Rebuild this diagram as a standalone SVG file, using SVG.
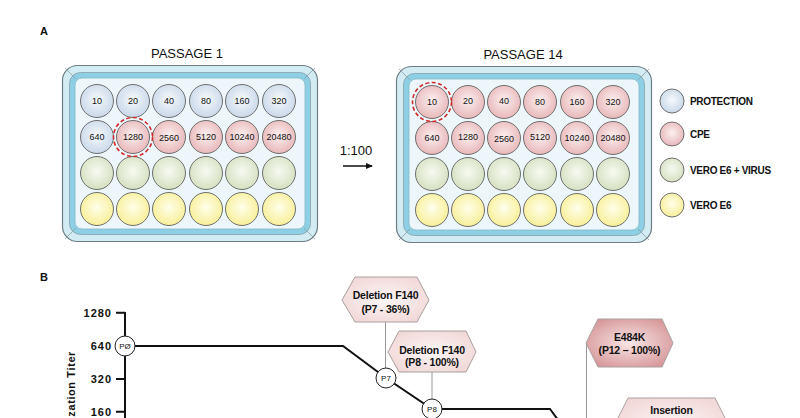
<svg xmlns="http://www.w3.org/2000/svg" xmlns:xlink="http://www.w3.org/1999/xlink" width="800" height="418" viewBox="0 0 800 418">
<style>
text{font-family:"Liberation Sans",Arial,sans-serif;fill:#111}
.panel{font-size:11px;font-weight:bold}
.title{font-size:13px;text-anchor:middle}
.wn{font-size:9px;text-anchor:middle}
.well{stroke:#6f6f6f;stroke-width:1}
.blue{fill:url(#gBlue)}
.pink{fill:url(#gPink)}
.green{fill:url(#gGreen)}
.yellow{fill:url(#gYellow)}
.mark{fill:none;stroke:#d42a2a;stroke-width:1.6;stroke-dasharray:4 2.5}
.leg{font-size:10px;font-weight:bold;letter-spacing:-0.3px}
.ax{font-size:11px;font-weight:bold;letter-spacing:1px;text-anchor:end}
.axt{font-size:11px;font-weight:bold;letter-spacing:0.6px;text-anchor:end}
.main{fill:none;stroke:#111;stroke-width:2}
.conn{fill:none;stroke:#999;stroke-width:1}
.pc{fill:#fff;stroke:#222;stroke-width:1}
.pl{font-size:8px;text-anchor:middle}
.hex{stroke:#a9a0a0;stroke-width:1}
.ht{font-size:10.5px;font-weight:bold;text-anchor:middle;letter-spacing:-0.2px}
</style>
<defs>
<radialGradient id="gBlue" cx="50%" cy="45%" r="55%"><stop offset="0" stop-color="#f6f9fc"/><stop offset="1" stop-color="#c8d8ea"/></radialGradient>
<radialGradient id="gPink" cx="50%" cy="45%" r="55%"><stop offset="0" stop-color="#fcf0f0"/><stop offset="1" stop-color="#e8b7b9"/></radialGradient>
<radialGradient id="gGreen" cx="50%" cy="45%" r="55%"><stop offset="0" stop-color="#f7faf1"/><stop offset="1" stop-color="#d5e0c1"/></radialGradient>
<radialGradient id="gYellow" cx="50%" cy="45%" r="55%"><stop offset="0" stop-color="#fffeea"/><stop offset="1" stop-color="#f8ef98"/></radialGradient>
<radialGradient id="gHex" cx="50%" cy="50%" r="60%"><stop offset="0" stop-color="#fdf6f6"/><stop offset="1" stop-color="#f1d6d6"/></radialGradient>
<radialGradient id="gHexD" cx="50%" cy="50%" r="60%"><stop offset="0" stop-color="#f8e6e6"/><stop offset="1" stop-color="#d69597"/></radialGradient>
<marker id="arr" markerWidth="8" markerHeight="8" refX="6" refY="3" orient="auto" markerUnits="userSpaceOnUse"><path d="M0,0 L7,3 L0,6 z" fill="#111"/></marker>
<g id="frame">
<rect x="0.5" y="0.5" width="255" height="176" rx="15" fill="#d3ecf4" stroke="#6e7f86" stroke-width="1.2"/>
<rect x="7.5" y="7.5" width="241" height="162" rx="11" fill="#8dcfe4" stroke="#8aa0a8" stroke-width="0.8"/>
<rect x="13" y="13" width="230" height="151" rx="7" fill="#edf7fb" stroke="#86b6c6" stroke-width="0.8"/>
<path d="M3,3 L14,14 M253,3 L242,14 M3,174 L14,163 M253,174 L242,163" stroke="#8aa0a8" stroke-width="0.8" fill="none"/>
</g>
</defs>
<rect width="800" height="418" fill="#fff"/>

<text class="panel" x="40" y="35">A</text>
<text class="panel" x="40" y="281">B</text>

<g id="plate1">
<text class="title" x="187" y="58">PASSAGE 1</text>
<use xlink:href="#frame" x="62" y="65"/>
<g class="well blue"><circle cx="97" cy="101" r="16.5"/><circle cx="133" cy="101" r="16.5"/><circle cx="169" cy="101" r="16.5"/><circle cx="206" cy="101" r="16.5"/><circle cx="242" cy="101" r="16.5"/><circle cx="279" cy="101" r="16.5"/><circle cx="97" cy="137" r="16.5"/></g>
<g class="well pink"><circle cx="133" cy="137" r="16.5"/><circle cx="169" cy="137" r="16.5"/><circle cx="206" cy="137" r="16.5"/><circle cx="242" cy="137" r="16.5"/><circle cx="279" cy="137" r="16.5"/></g>
<g class="well green"><circle cx="97" cy="173" r="16.5"/><circle cx="133" cy="173" r="16.5"/><circle cx="169" cy="173" r="16.5"/><circle cx="206" cy="173" r="16.5"/><circle cx="242" cy="173" r="16.5"/><circle cx="279" cy="173" r="16.5"/></g>
<g class="well yellow"><circle cx="97" cy="209" r="16.5"/><circle cx="133" cy="209" r="16.5"/><circle cx="169" cy="209" r="16.5"/><circle cx="206" cy="209" r="16.5"/><circle cx="242" cy="209" r="16.5"/><circle cx="279" cy="209" r="16.5"/></g>
<circle class="mark" cx="133" cy="137" r="19.5"/>
<g class="wn-row">
<text class="wn" x="97" y="104">10</text><text class="wn" x="133" y="104">20</text><text class="wn" x="169" y="104">40</text><text class="wn" x="206" y="104">80</text><text class="wn" x="242" y="104">160</text><text class="wn" x="279" y="104">320</text>
<text class="wn" x="97" y="140">640</text><text class="wn" x="133" y="140">1280</text><text class="wn" x="169" y="141">2560</text><text class="wn" x="206" y="140">5120</text><text class="wn" x="242" y="140">10240</text><text class="wn" x="279" y="140">20480</text>
</g>
</g>

<g id="dilution">
<text x="356" y="155" style="font-size:13px;text-anchor:middle">1:100</text>
<line x1="343" y1="166" x2="372" y2="166" stroke="#111" stroke-width="1.5" marker-end="url(#arr)"/>
</g>

<g id="plate14">
<text class="title" x="523" y="59">PASSAGE 14</text>
<use xlink:href="#frame" x="396" y="66"/>
<g class="well pink"><circle cx="432" cy="102" r="16.5"/><circle cx="468" cy="102" r="16.5"/><circle cx="504" cy="102" r="16.5"/><circle cx="540" cy="102" r="16.5"/><circle cx="577" cy="102" r="16.5"/><circle cx="613" cy="102" r="16.5"/>
<circle cx="432" cy="138" r="16.5"/><circle cx="468" cy="138" r="16.5"/><circle cx="504" cy="138" r="16.5"/><circle cx="540" cy="138" r="16.5"/><circle cx="577" cy="138" r="16.5"/><circle cx="613" cy="138" r="16.5"/></g>
<g class="well green"><circle cx="432" cy="174" r="16.5"/><circle cx="468" cy="174" r="16.5"/><circle cx="504" cy="174" r="16.5"/><circle cx="540" cy="174" r="16.5"/><circle cx="577" cy="174" r="16.5"/><circle cx="613" cy="174" r="16.5"/></g>
<g class="well yellow"><circle cx="432" cy="210" r="16.5"/><circle cx="468" cy="210" r="16.5"/><circle cx="504" cy="210" r="16.5"/><circle cx="540" cy="210" r="16.5"/><circle cx="577" cy="210" r="16.5"/><circle cx="613" cy="210" r="16.5"/></g>
<circle class="mark" cx="432" cy="102" r="19.5"/>
<text class="wn" x="432" y="105">10</text><text class="wn" x="468" y="104">20</text><text class="wn" x="504" y="104">40</text><text class="wn" x="540" y="105">80</text><text class="wn" x="577" y="105">160</text><text class="wn" x="613" y="105">320</text>
<text class="wn" x="432" y="141">640</text><text class="wn" x="468" y="140">1280</text><text class="wn" x="504" y="142">2560</text><text class="wn" x="540" y="140">5120</text><text class="wn" x="577" y="141">10240</text><text class="wn" x="613" y="141">20480</text>
</g>

<g id="legend">
<circle class="well blue" cx="672" cy="101" r="12"/><text class="leg" x="690" y="104.5">PROTECTION</text>
<circle class="well pink" cx="672" cy="134" r="12"/><text class="leg" x="690" y="137.5">CPE</text>
<circle class="well green" cx="672" cy="170" r="12"/><text class="leg" x="690" y="174">VERO E6 + VIRUS</text>
<circle class="well yellow" cx="672" cy="205" r="12"/><text class="leg" x="690" y="208.5">VERO E6</text>
</g>

<g id="axis">
<path class="main" d="M125,312 V420 M116,312.7 H125 M116,379 H125 M116,411.7 H125"/>
<text class="ax" x="112" y="316.5">1280</text>
<text class="ax" x="112" y="350">640</text>
<text class="ax" x="112" y="383">320</text>
<text class="ax" x="112" y="415.5">160</text>
<text class="axt" transform="translate(75,351) rotate(-90)">Neutralization Titer</text>
</g>

<g id="connectors">
<path class="main" d="M125,346 H343 L386,378 L432,409 H550 L564,428"/>
<path class="conn" d="M385.5,322 V368 M432,372 V399 M586.5,343 V420"/>
</g>

<g id="P0"><circle class="pc" cx="125" cy="346" r="10"/><text class="pl" x="125" y="349">PØ</text></g>
<g id="P7"><circle class="pc" cx="386" cy="378" r="10"/><text class="pl" x="386" y="381">P7</text></g>
<g id="P8"><circle class="pc" cx="432" cy="409" r="10"/><text class="pl" x="432" y="412">P8</text></g>

<g id="hex-del-p7">
<polygon class="hex" fill="url(#gHex)" points="342,300 355,277 417,277 429,300 417,322 355,322"/>
<text class="ht" x="385.5" y="299">Deletion F140</text>
<text class="ht" x="385.5" y="313">(P7 - 36%)</text>
</g>
<g id="hex-del-p8">
<polygon class="hex" fill="url(#gHex)" points="388,352 399,331 466,331 476,352 466,372 399,372"/>
<text class="ht" x="432" y="354">Deletion F140</text>
<text class="ht" x="432" y="366">(P8 - 100%)</text>
</g>
<g id="hex-e484k">
<polygon class="hex" fill="url(#gHexD)" points="586,343 598,319 662,319 673,343 662,367 598,367"/>
<text class="ht" x="629.5" y="341">E484K</text>
<text class="ht" x="629.5" y="354">(P12 – 100%)</text>
</g>
<g id="hex-insertion">
<polygon class="hex" fill="url(#gHex)" points="614,426 628,398 715,398 729,426 715,454 628,454"/>
<text class="ht" x="671.5" y="414">Insertion</text>
</g>
</svg>
